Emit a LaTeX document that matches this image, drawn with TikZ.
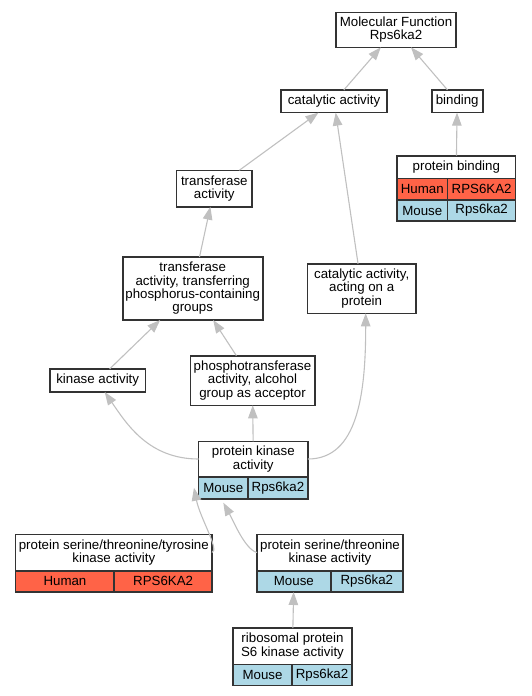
\documentclass[tikz,border=0pt]{standalone}
\usepackage{fontspec}
\setmainfont{Liberation Sans}
\usetikzlibrary{arrows.meta}
\definecolor{humanred}{HTML}{FF6347}
\definecolor{mouseblue}{HTML}{ADD8E6}
\definecolor{edgegray}{HTML}{C0C0C0}

\begin{document}
\begin{tikzpicture}[x=1pt, y=1pt,
  term/.style={draw=black!80, line width=1.6pt, fill=white, outer sep=0pt, inner sep=1pt, align=center, font=\fontsize{13.3}{13.3}\selectfont},
  human/.style={term, fill=humanred, anchor=north west},
  mouse/.style={term, fill=mouseblue, anchor=north west},
  edge/.style={draw=edgegray, line width=1.1pt, -{Triangle[length=13pt, width=9.5pt]}}]
\useasboundingbox (0,0) rectangle (531,-696);

% terms
\node[term, minimum width=120pt, minimum height=35pt] (mf) at (396,-29.8) {Molecular Function\\Rps6ka2};
\node[term, minimum width=106pt, minimum height=22.7pt] (cat) at (334,-101.3) {catalytic activity};
\node[term, minimum width=51pt, minimum height=22.7pt] (bind) at (457.2,-101.3) {binding};
\node[term, minimum width=118.7pt, minimum height=22.6pt] (pb) at (456.3,-167) {protein binding};
\node[human, minimum width=50.7pt, minimum height=21.7pt] (pb-h1) at (pb.south west) {Human};
\node[human, minimum width=68pt, minimum height=21.7pt] (pb-h2) at (pb-h1.north east) {RPS6KA2};
\node[mouse, minimum width=50.7pt, minimum height=21pt] (pb-m1) at (pb-h1.south west) {Mouse};
\node[mouse, minimum width=68pt, minimum height=21pt] (pb-m2) at (pb-m1.north east) {Rps6ka2};
\node[term, minimum width=75.3pt, minimum height=36.4pt] (trans) at (214.3,-188.5) {transferase\\activity};
\node[term, minimum width=140pt, minimum height=63pt] (transp) at (192.7,-288.5) {transferase\\activity, transferring\\phosphorus-containing\\groups};
\node[term, minimum width=108.7pt, minimum height=49.6pt] (catp) at (361.7,-288.5) {catalytic activity,\\acting on a\\protein};
\node[term, minimum width=95.3pt, minimum height=23pt] (kin) at (97.7,-380.5) {kinase activity};
\node[term, minimum width=124.4pt, minimum height=49.6pt] (phos) at (252.5,-380.5) {phosphotransferase\\activity, alcohol\\group as acceptor};
\node[term, minimum width=109.3pt, minimum height=35.4pt] (pk) at (253.3,-459) {protein kinase\\activity};
\node[mouse, minimum width=49.3pt, minimum height=22pt] (pk-m1) at (pk.south west) {Mouse};
\node[mouse, minimum width=60pt, minimum height=22pt] (pk-m2) at (pk-m1.north east) {Rps6ka2};
\node[term, minimum width=196.3pt, minimum height=36.4pt] (psty) at (113.8,-552.5) {protein serine/threonine/tyrosine\\kinase activity};
\node[human, minimum width=98.6pt, minimum height=21.3pt] (psty-h1) at (psty.south west) {Human};
\node[human, minimum width=97.7pt, minimum height=21.3pt] (psty-h2) at (psty-h1.north east) {RPS6KA2};
\node[term, minimum width=146pt, minimum height=36.4pt] (pst) at (330,-552.5) {protein serine/threonine\\kinase activity};
\node[mouse, minimum width=73.7pt, minimum height=21.3pt] (pst-m1) at (pst.south west) {Mouse};
\node[mouse, minimum width=72.3pt, minimum height=21.3pt] (pst-m2) at (pst-m1.north east) {Rps6ka2};
\node[term, minimum width=119pt, minimum height=36.3pt] (rib) at (292.5,-646.2) {ribosomal protein\\S6 kinase activity};
\node[mouse, minimum width=59pt, minimum height=21pt] (rib-m1) at (rib.south west) {Mouse};
\node[mouse, minimum width=60pt, minimum height=21pt] (rib-m2) at (rib-m1.north east) {Rps6ka2};

% is_a edges
\draw[edge] (cat) -- (mf);
\draw[edge] (bind) -- (mf);
\draw[edge] (pb) -- (bind);
\draw[edge] (trans) -- (cat);
\draw[edge] (catp) -- (cat);
\draw[edge] (transp) -- (trans);
\draw[edge] (kin) -- (transp);
\draw[edge] (phos) -- (transp);
\draw[edge] (pk) -- (phos);
\draw[edge] (pk.west) .. controls +(-50,0) and +(22,-32) .. ([xshift=7pt]kin.south);
\draw[edge] (pk.east) .. controls +(50,0) and +(0,-80) .. ([xshift=4pt]catp.south);
\draw[edge] (psty.east) .. controls +(8,2) and +(6,-30) .. ([xshift=-4.7pt]pk-m1.west);
\draw[edge] (pst.west) .. controls +(-12,3) and +(10,-18) .. ([yshift=-4pt]pk-m1.south);
\draw[edge] (rib) -- (pst-m1);
\end{tikzpicture}
\end{document}
